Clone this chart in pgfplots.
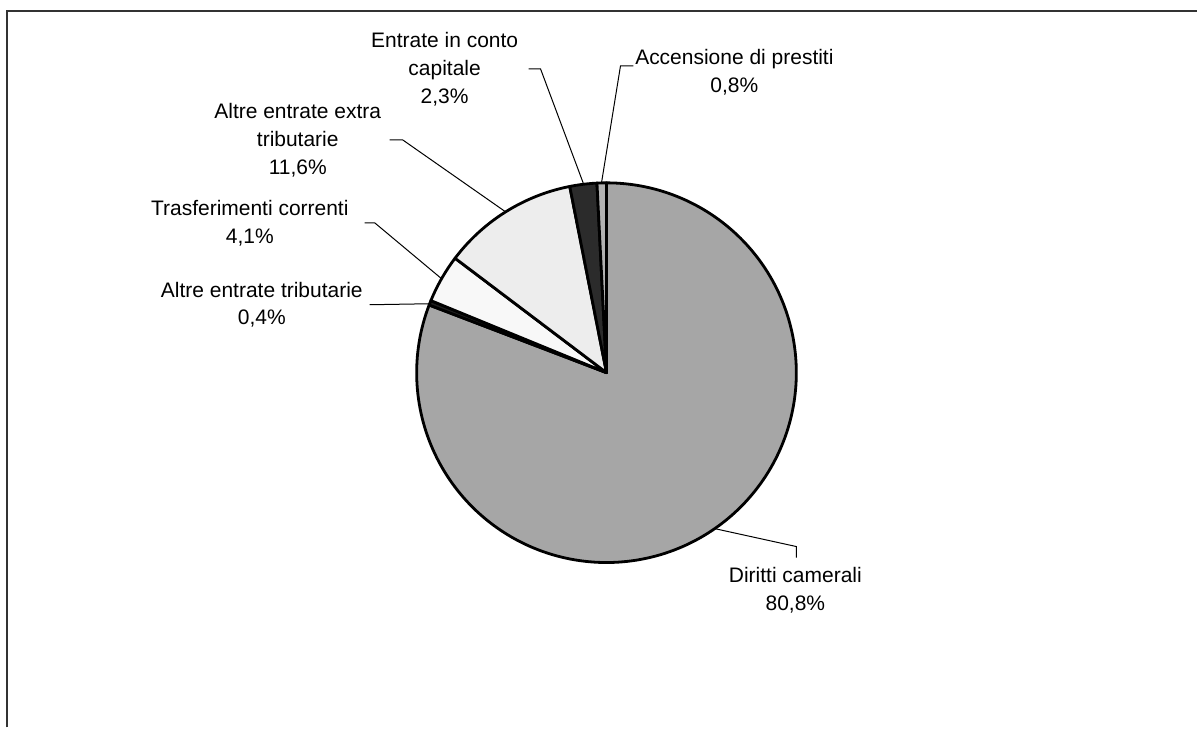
\documentclass[border=0pt]{standalone}
\usepackage{pgfplots}
\pgfplotsset{compat=1.18}
\usepackage{fontspec}
\setmainfont{Liberation Sans}
\definecolor{cDir}{RGB}{166,166,166}
\definecolor{cTrib}{RGB}{30,30,30}
\definecolor{cTras}{RGB}{248,248,248}
\definecolor{cExtra}{RGB}{237,237,237}
\definecolor{cCap}{RGB}{43,43,43}
\definecolor{cAcc}{RGB}{178,178,178}
% slice: cumulative start (%), value (%), colour
\newcommand{\pieslice}[3]{%
  \addplot[draw=black, line width=1.4pt, line join=round, fill=#3, variable=\t,
    domain={90-3.6*(#1+#2)}:{90-3.6*(#1)}, samples={max(4,round(2.5*#2))}]
    ({607+190*cos(\t)},{355+190*sin(\t)}) -- (axis cs:607,355) -- cycle;
}
\begin{document}
\begin{tikzpicture}
\begin{axis}[hide axis, scale only axis, width=599pt, height=364pt,
  xmin=0, xmax=1198, ymin=0, ymax=728, clip=false,
  at={(0,0)}, anchor=south west]
\path (axis cs:0,0) rectangle (axis cs:1198,728);
\draw[line width=1pt, black!80] (axis cs:7,0) -- (axis cs:7,717) -- (axis cs:1198,717);
% values: Diritti camerali 80.8, Altre entrate tributarie 0.4, Trasferimenti correnti 4.1,
% Altre entrate extra tributarie 11.6, Entrate in conto capitale 2.3, Accensione di prestiti 0.8
\pieslice{0}{80.8}{cDir}
\pieslice{80.8}{0.4}{cTrib}
\pieslice{81.2}{4.1}{cTras}
\pieslice{85.3}{11.6}{cExtra}
\pieslice{96.9}{2.3}{cCap}
\pieslice{99.2}{0.8}{cAcc}
% leader lines
\draw[line width=0.5pt] (axis cs:529,659) -- (axis cs:541,659) -- (axis cs:584,544);
\draw[line width=0.5pt] (axis cs:634,662) -- (axis cs:621,662) -- (axis cs:602,545);
\draw[line width=0.5pt] (axis cs:390,588) -- (axis cs:403,588) -- (axis cs:506,516);
\draw[line width=0.5pt] (axis cs:365,505) -- (axis cs:375,505) -- (axis cs:442,449);
\draw[line width=0.5pt] (axis cs:370,423) -- (axis cs:430,424);
\draw[line width=0.5pt] (axis cs:715,199) -- (axis cs:797,181) -- (axis cs:797,170);
% labels
\tikzset{lab/.style={align=center, inner sep=0pt, font=\fontsize{10.5}{14}\selectfont}}
\node[lab] at (axis cs:445,659) {Entrate in conto\\capitale\\2,3\%};
\node[lab] at (axis cs:735,656) {Accensione di prestiti\\0,8\%};
\node[lab] at (axis cs:298,588) {Altre entrate extra\\tributarie\\11,6\%};
\node[lab] at (axis cs:250,505) {Trasferimenti correnti\\4,1\%};
\node[lab] at (axis cs:262,423) {Altre entrate tributarie\\0,4\%};
\node[lab] at (axis cs:796,137) {Diritti camerali\\80,8\%};
\end{axis}
\end{tikzpicture}
\end{document}
